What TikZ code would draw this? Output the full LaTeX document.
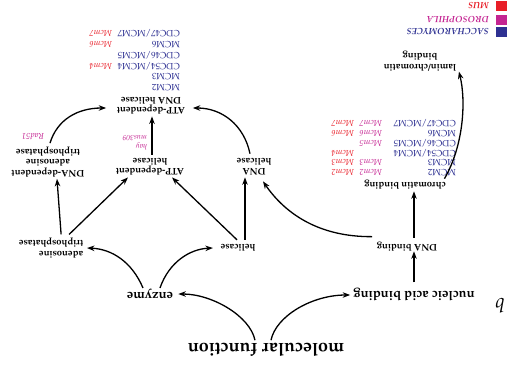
\documentclass[tikz,border=0pt]{standalone}
\usepackage[T1]{fontenc}
\usepackage{mathpazo}
\usetikzlibrary{arrows.meta,calc}
\definecolor{yeast}{RGB}{46,49,146}
\definecolor{fly}{RGB}{196,37,146}
\definecolor{mouse}{RGB}{232,30,40}
\begin{document}
\begin{tikzpicture}[x=1pt,y=1pt,
  term/.style={font=\bfseries\fontsize{9.5}{10.5}\selectfont, align=center, inner sep=0.5pt},
  midterm/.style={font=\bfseries\fontsize{13}{15}\selectfont, inner sep=1pt},
  rootterm/.style={font=\bfseries\fontsize{18}{20}\selectfont, inner sep=1pt},
  yeastgene/.style={text=yeast, font=\fontsize{9}{10}\selectfont, anchor=base west, inner sep=0pt},
  flygene/.style={text=fly, font=\itshape\fontsize{8.5}{10}\selectfont, anchor=base west, inner sep=0pt},
  mousegene/.style={text=mouse, font=\itshape\fontsize{8.5}{10}\selectfont, anchor=base west, inner sep=0pt},
  legendtext/.style={font=\bfseries\itshape\fontsize{9}{10}\selectfont, anchor=west, inner sep=0pt},
  swatch/.style={minimum width=11pt, minimum height=10pt, inner sep=0pt},
  isa/.style={-{Stealth[length=7.5pt,width=5.5pt]}, line width=1.3pt}
]
\begin{scope}[rotate=180, transform shape]
\useasboundingbox (0,0) rectangle (512,370);

% ontology terms
\node[rootterm] (root) at (246,350) {molecular function};
\node[font=\itshape\fontsize{20}{22}\selectfont, inner sep=0pt] (panel) at (12,306) {b};
\node[midterm] (enzyme) at (362,294) {enzyme};
\node[midterm] (nab) at (98,295) {nucleic acid binding};
\node[term] (dnab) at (105,247) {DNA binding};
\node[term] (chromb) at (107,185) {chromatin binding};
\node[term] (lamin) at (92,61) {lamin/chromatin\\binding};
\node[term] (helicase) at (274,248) {helicase};
\node[term, align=left, anchor=west] (atpase) at (428,248) {adenosine\\triphosphatase};
\node[term] (dnahel) at (258,167) {DNA\\helicase};
\node[term] (atphel) at (362,167) {ATP-dependent\\helicase};
\node[term] (dnaatpase) at (464,162) {DNA-dependent\\adenosine\\triphosphatase};
\node[term] (atpdnahel) at (361,106) {ATP-dependent\\DNA helicase};

% genes annotated to chromatin binding
\foreach \g [count=\i] in {MCM2, MCM3, CDC54/MCM4, CDC46/MCM5, MCM6, CDC47/MCM7}
  \node[yeastgene] (chy\i) at (56, {173-9.8*(\i-1)-3.3}) {\g};
\foreach \i/\g in {1/Mcm2, 2/Mcm3, 4/Mcm5, 5/Mcm6, 6/Mcm7}
  \node[flygene] (chf\i) at (130, {173-9.8*(\i-1)-3.3}) {\g};
\foreach \i/\g in {1/Mcm2, 2/Mcm3, 3/Mcm4, 5/Mcm6, 6/Mcm7}
  \node[mousegene] (chm\i) at (158, {173-9.8*(\i-1)-3.3}) {\g};

% genes annotated to ATP-dependent DNA helicase
\foreach \g [count=\i] in {MCM2, MCM3, CDC54/MCM4, CDC46/MCM5, MCM6, CDC47/MCM7}
  \node[yeastgene] (hy\i) at (332, {88-10.8*(\i-1)-3.3}) {\g};
\foreach \i/\g in {3/Mcm4, 5/Mcm6, 6/Mcm7}
  \node[mousegene] (hm\i) at (400, {88-10.8*(\i-1)-3.3}) {\g};

% fly genes beside edges
\node[flygene, anchor=west, align=left, font=\itshape\fontsize{7.5}{9}\selectfont] (hay) at (365,142.5) {hay\\mus309};
\node[flygene, anchor=center] (rad) at (479,137) {Rad51};

% legend
\node[swatch, fill=yeast] (sy) at (10.5,32) {};
\node[swatch, fill=fly] (sf) at (10.5,19.5) {};
\node[swatch, fill=mouse] (sm) at (10.5,5.5) {};
\node[legendtext, text=yeast] (ly) at (23,32) {SACCHAROMYCES};
\node[legendtext, text=fly] (lf) at (23,19.5) {DROSOPHILA};
\node[legendtext, text=mouse] (lm) at (23,5.5) {MUS};

% is-a edges
\draw[isa] ($(root.south)+(11,-2)$) .. controls (262,316) and (300,294) .. ($(enzyme.west)+(-4,0)$);
\draw[isa] ($(root.south)+(-5,-2)$) .. controls (236,316) and (200,295) .. ($(nab.east)+(2,0)$);
\draw[isa] ($(enzyme.south)+(7,0)$) .. controls (380,262) and (400,249) .. ($(atpase.west)+(-3,0)$);
\draw[isa] ($(enzyme.south)+(-10,0)$) .. controls (343,262) and (322,249) .. ($(helicase.east)+(7,0)$);
\draw[isa] ($(helicase.south)+(1,-4)$) -- ($(atphel.north)+(-22,1)$);
\draw[isa] ($(helicase.south)+(-7,-4)$) -- ($(dnahel.north)+(9,1)$);
\draw[isa] ($(atpase.south)+(-18,-3)$) -- ($(atphel.north)+(22,1)$);
\draw[isa] ($(atpase.south)+(-10,-3)$) -- ($(dnaatpase.north)+(-9,1)$);
\draw[isa] ($(nab.south)+(0,-5)$) -- ($(dnab.north)+(-7,-1)$);
\draw[isa] ($(dnab.south)+(-7,-4)$) -- ($(chromb.north)+(-9,1)$);
\draw[isa] ($(dnab.south east)+(4,-5)$) .. controls (195,237) and (228,212) .. ($(dnahel.north)+(-9,5)$);
\draw[isa] ($(atphel.south)+(-2,-3)$) -- ($(atpdnahel.north)+(-1,1)$);
\draw[isa] ($(dnahel.south)+(4,-4)$) .. controls (268,125) and (290,108) .. ($(atpdnahel.west)+(-7,2)$);
\draw[isa] ($(dnaatpase.south)+(-2,-3)$) .. controls (455,120) and (435,108) .. ($(atpdnahel.east)+(10,2)$);
\draw[isa] ($(chromb.south west)+(2,-1)$) .. controls (48,145) and (46,100) .. ($(lamin.north west)+(-2,0)$);
\end{scope}
\end{tikzpicture}
\end{document}
